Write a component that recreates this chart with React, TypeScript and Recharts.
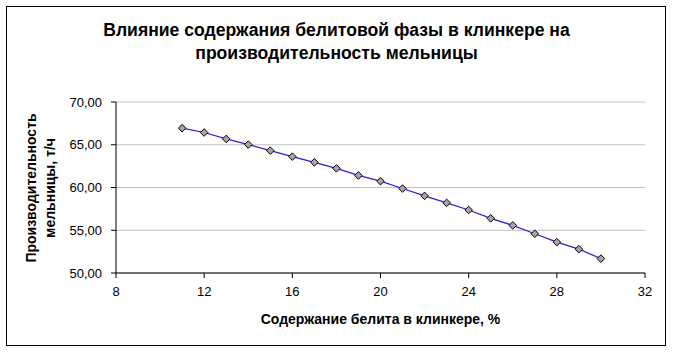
import React from "react";
import { LineChart, Line, XAxis, YAxis, CartesianGrid } from "recharts";

const belite = [11, 12, 13, 14, 15, 16, 17, 18, 19, 20, 21, 22, 23, 24, 25, 26, 27, 28, 29, 30];
const productivity = [66.94, 66.43, 65.68, 65.02, 64.31, 63.61, 62.94, 62.24, 61.41, 60.74, 59.88, 59.02, 58.2, 57.37, 56.39, 55.57, 54.59, 53.61, 52.79, 51.68];
const xTicks = [8, 12, 16, 20, 24, 28, 32];
const yTicks = [50, 55, 60, 65, 70];
const titleLines = ["Влияние содержания белитовой фазы в клинкере на", "производительность мельницы"];
const xTitle = "Содержание белита в клинкере, %";
const yTitleLines = ["Производительность", "мельницы, т/ч"];

const data = belite.map((b, i) => ({ x: b, y: productivity[i] }));

const FONT = "'Liberation Sans', Arial, sans-serif";

const Diamond = (props: any) => {
  const { cx, cy, index } = props;
  if (cx == null || cy == null) return null;
  const r = 3.8;
  return (
    <path
      key={`d-${index}`}
      d={`M${cx},${cy - r} L${cx + r},${cy} L${cx},${cy + r} L${cx - r},${cy} Z`}
      fill="#a6a6a6"
      stroke="#000"
      strokeWidth={1}
    />
  );
};

export default function App() {
  return (
    <div style={{ position: "absolute", left: 0, top: 0, width: 673, height: 353, background: "#fff", fontFamily: FONT }}>
      <div style={{ position: "absolute", left: 6, top: 6, width: 658, height: 338, border: "1.5px solid #000" }} />
      <div style={{ position: "absolute", left: 0, top: 19, width: 673, textAlign: "center", fontWeight: "bold", fontSize: 17.6, lineHeight: "23px", color: "#000" }}>
        {titleLines.map((l, i) => (<div key={i}>{l}</div>))}
      </div>
      <div style={{ position: "absolute", left: 116, width: 529, top: 311, textAlign: "center", fontWeight: "bold", fontSize: 14, color: "#000" }}>
        {xTitle}
      </div>
      <div style={{ position: "absolute", left: 41, top: 188, width: 0, height: 0 }}>
        <div style={{ position: "absolute", transform: "translate(-50%, -50%) rotate(-90deg)", whiteSpace: "nowrap", textAlign: "center", fontWeight: "bold", fontSize: 14, lineHeight: "19px", color: "#000" }}>
          {yTitleLines.map((l, i) => (<div key={i}>{l}</div>))}
        </div>
      </div>
      <div style={{ position: "absolute", left: 0, top: 0 }}>
        <LineChart width={673} height={353} data={data} margin={{ top: 102, right: 28, bottom: 50, left: 56 }}>
          <CartesianGrid vertical={false} stroke="#c0c0c0" strokeWidth={1} horizontalValues={yTicks} />
          <XAxis
            type="number"
            dataKey="x"
            domain={[8, 32]}
            ticks={xTicks}
            interval={0}
            height={30}
            tickSize={5}
            tickMargin={9}
            stroke="#000"
            tick={{ fill: "#000", fontSize: 13, fontFamily: FONT }}
            allowDataOverflow
          />
          <YAxis
            type="number"
            dataKey="y"
            domain={[50, 70]}
            ticks={yTicks}
            interval={0}
            width={60}
            tickSize={5}
            tickMargin={9}
            stroke="#000"
            tick={{ fill: "#000", fontSize: 13, fontFamily: FONT }}
            tickFormatter={(v: number) => v.toFixed(2).replace(".", ",")}
            allowDataOverflow
          />
          <Line
            type="linear"
            dataKey="y"
            stroke="#2222dd"
            strokeWidth={1.2}
            dot={Diamond}
            activeDot={false}
            isAnimationActive={false}
          />
        </LineChart>
      </div>
    </div>
  );
}
